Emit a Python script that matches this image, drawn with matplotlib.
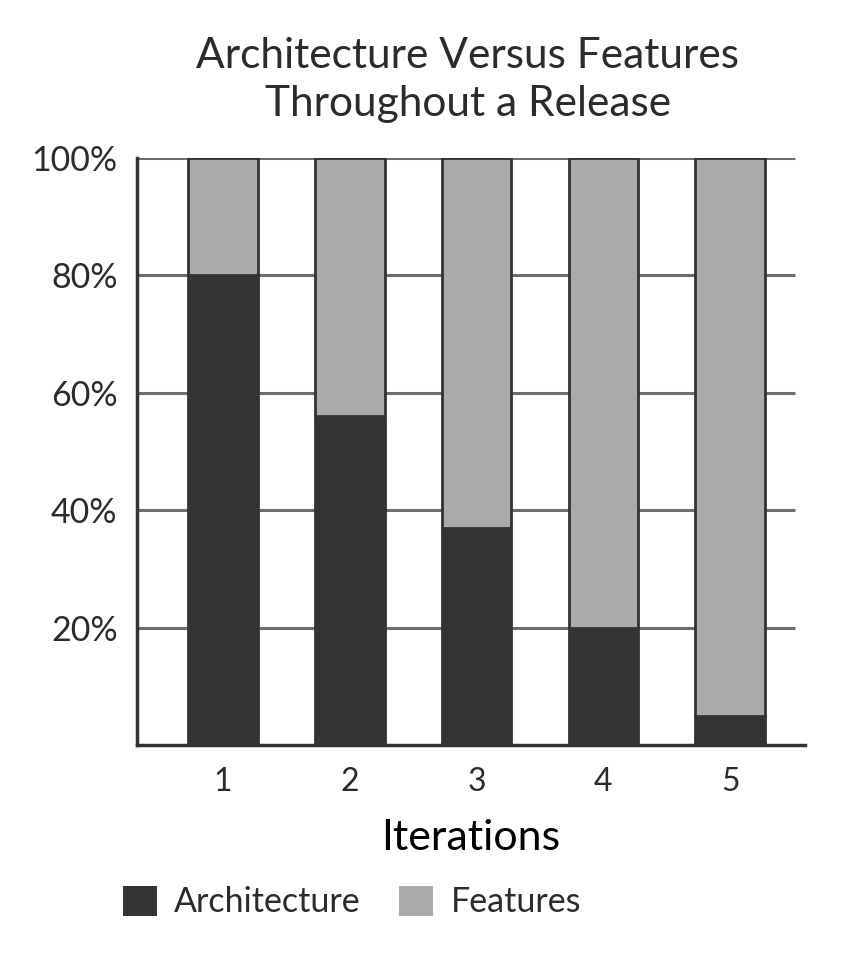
import matplotlib.pyplot as plt
from matplotlib.patches import Patch

# ── Data ──────────────────────────────────────────────────────────────────────
iterations = ["1", "2", "3", "4", "5"]
architecture = [80, 56, 37, 20, 5]
features = [20, 44, 63, 80, 95]
y_ticks = [20, 40, 60, 80, 100]
y_labels = ["20%", "40%", "60%", "80%", "100%"]

DARK = "#333333"
GREY = "#a9aaac"
TEXT = "#2b2b2b"

plt.rcParams.update({
    "font.family": ["Lato", "DejaVu Sans"],
    "text.color": TEXT,
})

fig = plt.figure(figsize=(8.57, 9.66), dpi=100)
ax = fig.add_axes([137 / 857, 1 - 745 / 966, (805 - 137) / 857, (745 - 158) / 966])

x = list(range(1, len(iterations) + 1))
ax.hlines(y_ticks, 0.32, 5.51, color="#6e6e6e", linewidth=2.2, zorder=1)
ax.bar(x, architecture, width=0.55, color=DARK, edgecolor=DARK, linewidth=2, zorder=2)
ax.bar(x, features, width=0.55, bottom=architecture, color=GREY, edgecolor=DARK,
       linewidth=2, zorder=2)

ax.set_xlim(0.3215, 5.59)
ax.set_ylim(0, 100)
ax.set_xticks(x)
ax.set_xticklabels(iterations, fontsize=23)
ax.set_yticks(y_ticks)
ax.set_yticklabels(y_labels, fontsize=24.5)
ax.tick_params(length=0, colors=TEXT)
ax.tick_params(axis="x", pad=16)
ax.tick_params(axis="y", pad=14)
for s in ["top", "right"]:
    ax.spines[s].set_visible(False)
for s in ["left", "bottom"]:
    ax.spines[s].set_color(DARK)
    ax.spines[s].set_linewidth(2.5)
ax.set_xlabel("Iterations", fontsize=31, labelpad=16)

fig.text(468 / 857, 1 - 80 / 966, "Architecture Versus Features\nThroughout a Release",
         ha="center", va="center", fontsize=30.5, linespacing=1.3)

handles = [Patch(facecolor=DARK, edgecolor="none", label="Architecture"),
           Patch(facecolor=GREY, edgecolor="none", label="Features")]
fig.legend(handles=handles, loc="center left", bbox_to_anchor=(92 / 857, 1 - 902 / 966),
           ncol=2, frameon=False, fontsize=24.5, handlelength=1.0, handleheight=1.0,
           handletextpad=0.5, columnspacing=1.15)

plt.savefig("out.png", dpi=100)
